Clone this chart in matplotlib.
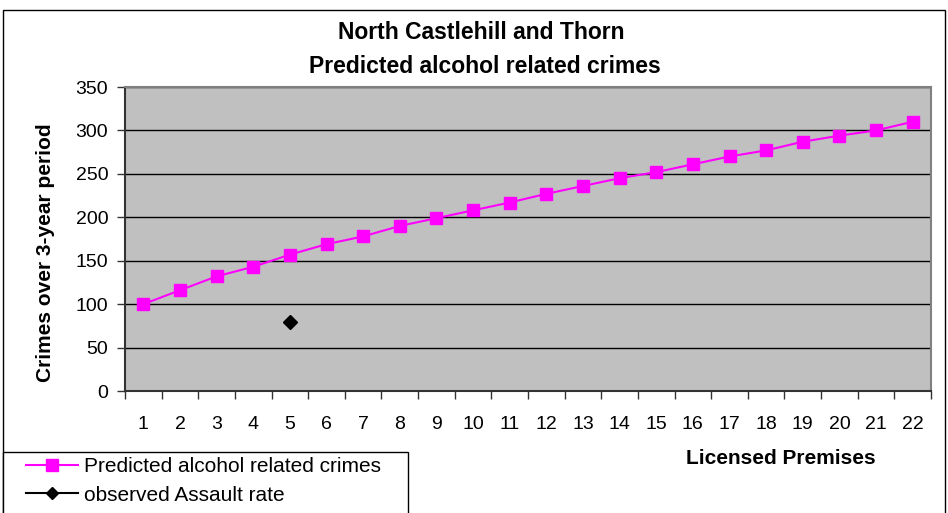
import matplotlib.pyplot as plt
from matplotlib.patches import Rectangle
from matplotlib.lines import Line2D

plt.rcParams['font.family'] = ['Liberation Sans', 'DejaVu Sans']

# data
premises = list(range(1, 23))
predicted = [100, 116, 132, 143, 157, 169, 178, 190, 199, 208, 217, 227,
             236, 245, 252, 261, 270, 277, 287, 294, 300, 310]
obs_x = [5]
obs_y = [80]

W, H = 948, 513
fig = plt.figure(figsize=(W / 100, H / 100), dpi=100)
ax = fig.add_axes([125 / W, 1 - 391 / H, (931 - 125) / W, (391 - 87) / H])
ax.set_facecolor('#C0C0C0')

# outer chart frame and legend box
fig.patches.append(Rectangle((3 / W, -0.1), (945 - 3) / W, 1.1 - 10 / H,
                             transform=fig.transFigure, fill=False,
                             edgecolor='black', linewidth=1, clip_on=False))
fig.patches.append(Rectangle((3 / W, -0.1), (408 - 3) / W, 0.1 + 1 - 452 / H,
                             transform=fig.transFigure, fill=True,
                             facecolor='white', edgecolor='black',
                             linewidth=1, clip_on=False))

ax.plot(premises, predicted, color='#FF00FF', marker='s', markersize=8,
        linewidth=1.5, zorder=3)
ax.plot(obs_x, obs_y, color='black', marker='D', markersize=7,
        linestyle='none', zorder=3)

ax.set_xlim(0.5, 22.5)
ax.set_ylim(0, 350)
ax.set_yticks(range(0, 351, 50))
ax.yaxis.grid(True, color='black', linewidth=1)
ax.set_axisbelow(True)

ax.set_xticks([i + 0.5 for i in range(0, 23)])
ax.set_xticklabels([])
ax.set_xticks(premises, minor=True)
ax.set_xticklabels([str(p) for p in premises], minor=True)
ax.tick_params(axis='x', which='major', length=6, width=1, color='#333333')
ax.tick_params(axis='x', which='minor', length=0, pad=18, labelsize=14)
ax.tick_params(axis='y', length=6, width=1, color='#333333', labelsize=14,
               pad=6)

for s in ['top', 'right']:
    ax.spines[s].set_color('#808080')
    ax.spines[s].set_linewidth(1.5)
for s in ['left', 'bottom']:
    ax.spines[s].set_color('#333333')
    ax.spines[s].set_linewidth(1.5)

fig.text(46 / W, 1 - 253 / H, 'Crimes over 3-year period', fontsize=15,
         fontweight='bold', rotation=90, ha='center', va='center')
fig.text(781 / W, 1 - 464 / H, 'Licensed Premises', fontsize=15,
         fontweight='bold', ha='center', va='baseline')
fig.text(481 / W, 1 - 39 / H, 'North Castlehill and Thorn', fontsize=16.5,
         fontweight='bold', ha='center', va='baseline')
fig.text(485 / W, 1 - 73 / H, 'Predicted alcohol related crimes', fontsize=16.5,
         fontweight='bold', ha='center', va='baseline')

handles = [Line2D([], [], color='#FF00FF', marker='s', markersize=8,
                  linewidth=1.5),
           Line2D([], [], color='black', marker='D', markersize=6,
                  linewidth=1.5)]
labels = ['Predicted alcohol related crimes', 'observed Assault rate']
leg = fig.legend(handles, labels, loc='upper left',
                 bbox_to_anchor=(22 / W, 1 - 453 / H), fontsize=15,
                 frameon=False, borderaxespad=0, handlelength=2.5,
                 borderpad=0.2, labelspacing=0.45, handletextpad=0.3)

fig.savefig('out.png', dpi=100)
